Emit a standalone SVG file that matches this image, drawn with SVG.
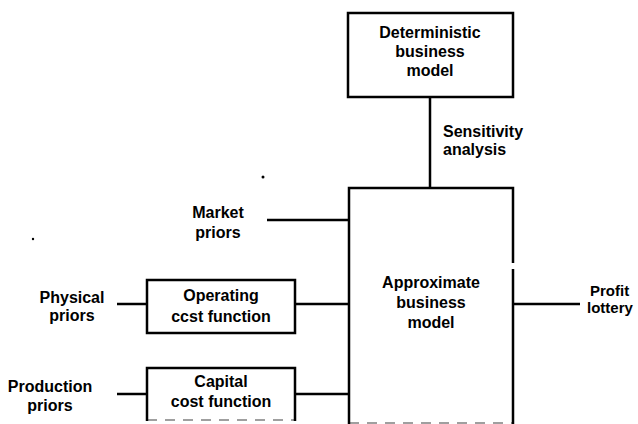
<svg xmlns="http://www.w3.org/2000/svg" width="638" height="424" viewBox="0 0 638 424">
<style>
.box{fill:none;stroke:#000;stroke-width:2.5}
.ln{fill:none;stroke:#000;stroke-width:2.5}
text{font-family:"Liberation Sans",Arial,sans-serif;font-weight:bold;font-size:16px;fill:#000}
.c{text-anchor:middle}
.s{font-size:15px}
</style>
<rect width="638" height="424" fill="#fff"/>
<g id="connectors">
<line class="ln" x1="430" y1="97" x2="430" y2="188"/>
<line class="ln" x1="267" y1="220" x2="349" y2="220"/>
<line class="ln" x1="117" y1="304" x2="147" y2="304"/>
<line class="ln" x1="295" y1="304" x2="349" y2="304"/>
<line class="ln" x1="117" y1="394" x2="147" y2="394"/>
<line class="ln" x1="295" y1="394" x2="349" y2="394"/>
<line class="ln" x1="513" y1="304" x2="580" y2="304"/>
</g>
<g id="deterministic">
<rect class="box" x="348" y="13" width="165" height="84"/>
<text class="c" x="430" y="38">Deterministic</text>
<text class="c" x="430" y="57">business</text>
<text class="c" x="430" y="76">model</text>
</g>
<g id="sensitivity">
<text x="443" y="137">Sensitivity</text>
<text x="443" y="155">analysis</text>
</g>
<g id="approximate">
<path class="box" d="M349,424 V188 H513 V263 M513,269 V424"/>
<path d="M349,423 H513" fill="none" stroke="#000" stroke-width="1.5" stroke-dasharray="10,8" opacity="0.5"/>
<text class="c" x="431" y="288">Approximate</text>
<text class="c" x="431" y="308">business</text>
<text class="c" x="431" y="328">model</text>
</g>
<g id="market">
<text class="c" x="218" y="218">Market</text>
<text class="c" x="218" y="238">priors</text>
</g>
<g id="physical">
<text class="c" x="72" y="303">Physical</text>
<text class="c" x="72" y="321">priors</text>
</g>
<g id="operating">
<rect class="box" x="147" y="280" width="148" height="53"/>
<text class="c" x="221" y="301">Operating</text>
<text class="c" x="221" y="322">ccst function</text>
</g>
<g id="production">
<text class="c" x="50" y="392">Production</text>
<text class="c" x="50" y="411">priors</text>
</g>
<g id="capital">
<path class="box" d="M147,421 V368 H295 V421"/>
<path d="M147,420 H295" fill="none" stroke="#000" stroke-width="1.5" stroke-dasharray="10,8" opacity="0.5"/>
<text class="c" x="221" y="387">Capital</text>
<text class="c" x="221" y="407">cost function</text>
</g>
<g id="profit">
<text class="s" x="590" y="296">Profit</text>
<text class="s" x="587" y="313">lottery</text>
</g>
<g id="specks">
<circle cx="263" cy="177" r="1.5" fill="#000"/>
<circle cx="33" cy="239" r="1.2" fill="#000"/>
</g>
</svg>
